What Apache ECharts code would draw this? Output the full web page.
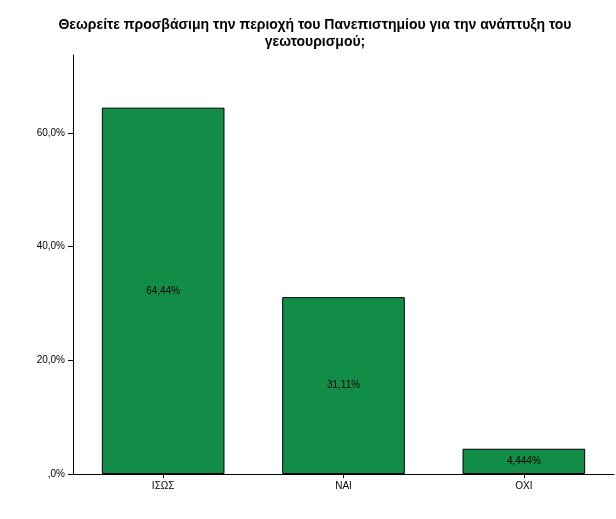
<!DOCTYPE html>
<html><head><meta charset="utf-8">
<script src="https://cdn.jsdelivr.net/npm/echarts@6/dist/echarts.min.js"></script>
<style>html,body{margin:0;padding:0;background:#fff}#c{width:616px;height:519px}</style>
</head><body><div id="c"></div>
<script>
const categories = ['ΙΣΩΣ', 'ΝΑΙ', 'ΟΧΙ'];
const values = [64.44, 31.11, 4.444];
const valueLabels = ['64,44%', '31,11%', '4,444%'];
const titleText = 'Θεωρείτε προσβάσιμη την περιοχή του Πανεπιστημίου για την ανάπτυξη του\nγεωτουρισμού;';

const chart = echarts.init(document.getElementById('c'));
chart.setOption({
  animation: false,
  backgroundColor: '#fff',
  title: {
    text: titleText, left: 310, textAlign: 'center', top: 12,
    textStyle: {fontFamily: 'Liberation Sans, Arial', fontSize: 14, fontWeight: 'bold', color: '#000', lineHeight: 17}
  },
  grid: {left: 73, right: 2, top: 55, bottom: 45},
  xAxis: {
    type: 'category', data: categories,
    axisLine: {lineStyle: {color: '#000'}},
    axisTick: {show: true, alignWithLabel: true, length: 4, lineStyle: {color: '#000'}},
    axisLabel: {color: '#000', fontSize: 10, fontFamily: 'Liberation Sans, Arial', margin: 7}
  },
  yAxis: {
    type: 'value', min: 0, max: 73.7, interval: 20,
    splitLine: {show: false},
    axisLine: {show: true, lineStyle: {color: '#000'}},
    axisTick: {show: true, length: 5, lineStyle: {color: '#000'}},
    axisLabel: {color: '#000', fontSize: 10, fontFamily: 'Liberation Sans, Arial',
      showMaxLabel: false,
      formatter: v => v === 0 ? ',0%' : v.toFixed(1).replace('.', ',') + '%'}
  },
  series: [{
    type: 'bar', data: values, barWidth: '68%',
    itemStyle: {color: '#118d47', borderColor: '#000', borderWidth: 1},
    label: {show: true, position: 'inside', color: '#000', fontSize: 10,
      fontFamily: 'Liberation Sans, Arial',
      formatter: p => valueLabels[p.dataIndex]}
  }]
});
</script></body></html>
